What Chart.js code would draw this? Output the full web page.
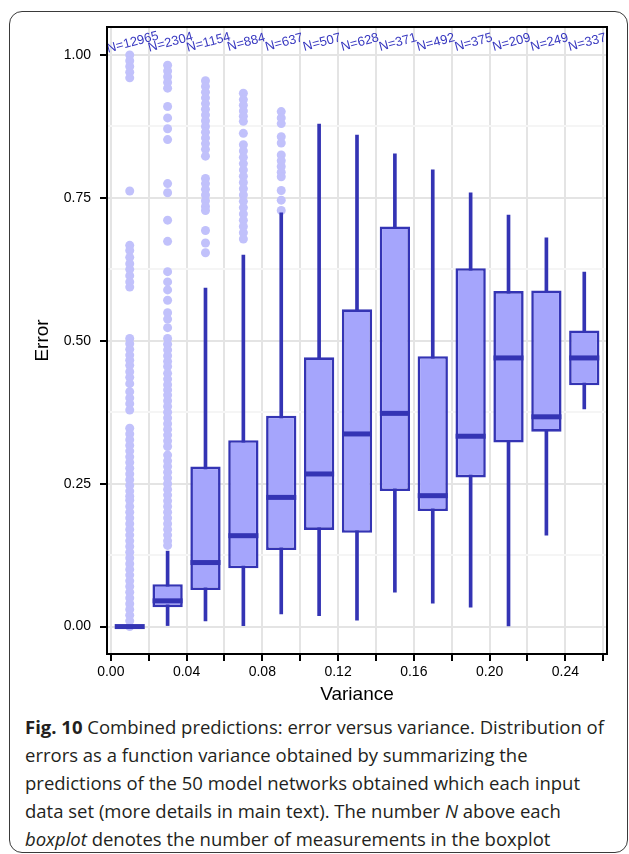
<!DOCTYPE html>
<html>
<head>
<meta charset="utf-8">
<script src="https://cdn.jsdelivr.net/npm/chart.js@4.4.1/dist/chart.umd.min.js"></script>
<style>
  body { margin: 0; background: #fff; width: 629px; height: 854px; overflow: hidden; position: relative; }
  #frame { position: absolute; left: 9px; top: 11px; width: 619px; height: 842px; box-sizing: border-box;
           border: 1.5px solid #3a3a3a; border-radius: 13px; }
  #wrap { position: absolute; left: 0; top: 0; width: 629px; height: 710px; }
  #caption { position: absolute; left: 25px; top: 713px; font-family: "Open Sans", sans-serif; font-size: 18.5px;
             line-height: 28px; color: #231f20; white-space: nowrap; }
</style>
</head>
<body>
<div id="frame"></div>
<div id="wrap"><canvas id="myChart" width="629" height="710"></canvas></div>
<div id="caption">
  <div><b>Fig. 10</b> Combined predictions: error versus variance. Distribution of</div>
  <div>errors as a function variance obtained by summarizing the</div>
  <div>predictions of the 50 model networks obtained which each input</div>
  <div>data set (more details in main text). The number <i>N</i> above each</div>
  <div><i>boxplot</i> denotes the number of measurements in the boxplot</div>
</div>
<script>
    // boxplot data, one entry per variance bin
    const varCenters = [0.01, 0.03, 0.05, 0.07, 0.09, 0.11, 0.13, 0.15, 0.17, 0.19, 0.21, 0.23, 0.25];
    const nCounts = [12965, 2304, 1154, 884, 637, 507, 628, 371, 492, 375, 209, 249, 337];
    const whiskLow = [0.0, 0.0, 0.010, 0.0, 0.022, 0.019, 0.011, 0.060, 0.041, 0.034, 0.001, 0.160, 0.381];
    const q1 = [0.0, 0.034, 0.064, 0.102, 0.134, 0.169, 0.164, 0.237, 0.202, 0.261, 0.322, 0.341, 0.422];
    const medians = [0.0, 0.045, 0.112, 0.159, 0.226, 0.267, 0.337, 0.373, 0.229, 0.333, 0.470, 0.367, 0.470];
    const q3 = [0.0, 0.074, 0.280, 0.326, 0.369, 0.471, 0.555, 0.700, 0.473, 0.627, 0.587, 0.588, 0.518];
    const whiskHigh = [0.0, 0.132, 0.592, 0.650, 0.724, 0.879, 0.860, 0.827, 0.799, 0.759, 0.720, 0.680, 0.620];

    const outliers = [
        [1.0, 0.99, 0.98, 0.97, 0.96, 0.762, 0.667, 0.658, 0.646, 0.635, 0.625, 0.614, 0.603, 0.594,
         0.504, 0.495, 0.485, 0.475, 0.466, 0.457, 0.446, 0.436, 0.425, 0.411, 0.40, 0.39, 0.379,
         0.347, 0.337, 0.327, 0.317, 0.307, 0.297, 0.287, 0.277, 0.267, 0.257, 0.247, 0.237, 0.228, 0.221,
         0.21, 0.20, 0.19, 0.18, 0.17, 0.16, 0.15, 0.14, 0.13, 0.12, 0.11, 0.10, 0.09, 0.08, 0.07,
         0.06, 0.05, 0.04, 0.03, 0.02, 0.01, 0.0],
        [0.982, 0.972, 0.962, 0.952, 0.942, 0.910, 0.890, 0.871, 0.852, 0.775, 0.759, 0.711, 0.674,
         0.621, 0.603, 0.589, 0.571, 0.549, 0.538, 0.523, 0.504, 0.494, 0.484, 0.474, 0.464, 0.455,
         0.443, 0.433, 0.423, 0.414, 0.405, 0.395, 0.385, 0.375, 0.365, 0.355, 0.345, 0.335, 0.325,
         0.315, 0.300, 0.290, 0.280, 0.270, 0.260, 0.250, 0.240, 0.230, 0.220, 0.210, 0.200, 0.190,
         0.180, 0.170, 0.160, 0.150, 0.142],
        [0.955, 0.945, 0.935, 0.925, 0.915, 0.905, 0.895, 0.885, 0.875, 0.865, 0.855, 0.845, 0.835,
         0.823, 0.784, 0.775, 0.765, 0.755, 0.745, 0.735, 0.728, 0.693, 0.671, 0.654],
        [0.933, 0.922, 0.912, 0.902, 0.893, 0.884, 0.863, 0.843, 0.832, 0.821, 0.810, 0.799, 0.788,
         0.777, 0.766, 0.755, 0.744, 0.733, 0.722, 0.711, 0.700, 0.689, 0.678],
        [0.901, 0.890, 0.880, 0.857, 0.846, 0.825, 0.815, 0.805, 0.795, 0.787, 0.763, 0.746, 0.728],
        [], [], [], [], [], [], [], []
    ];

    const xTickVals = [0, 0.02, 0.04, 0.06, 0.08, 0.10, 0.12, 0.14, 0.16, 0.18, 0.20, 0.22, 0.24, 0.26];
    const xTickLabels = ['0.00', '', '0.04', '', '0.08', '', '0.12', '', '0.16', '', '0.20', '', '0.24', ''];
    const yTickVals = [0, 0.125, 0.25, 0.375, 0.5, 0.625, 0.75, 0.875, 1.0];
    const yTickLabels = ['0.00', '', '0.25', '', '0.50', '', '0.75', '', '1.00'];

    const dark = '#3434b4';
    const boxFill = '#a5a5fc';
    const outlierColor = '#c1c1fb';
    const axisFont = {family: '"Liberation Sans", Arial, Helvetica, sans-serif', size: 14};
    const titleFont = {family: '"Liberation Sans", Arial, Helvetica, sans-serif', size: 19};

    const outlierPoints = [];
    outliers.forEach((list, i) => {
        list.forEach(v => outlierPoints.push({x: varCenters[i], y: v}));
    });

    const nLabels = {
        id: 'nLabels',
        afterDatasetsDraw(chart) {
            const {ctx, scales: {x, y}} = chart;
            ctx.save();
            ctx.font = '13px "Liberation Sans", Arial, sans-serif';
            ctx.fillStyle = '#3838c0';
            ctx.textAlign = 'center';
            ctx.textBaseline = 'middle';
            varCenters.forEach((v, i) => {
                ctx.save();
                ctx.translate(x.getPixelForValue(v) + 3, y.getPixelForValue(1.022));
                ctx.rotate(-15 * Math.PI / 180);
                ctx.fillText('N=' + nCounts[i], 0, 0);
                ctx.restore();
            });
            ctx.restore();
        }
    };

    const panelBorder = {
        id: 'panelBorder',
        afterDraw(chart) {
            const {ctx, chartArea: a} = chart;
            ctx.save();
            ctx.strokeStyle = '#000';
            ctx.lineWidth = 2;
            ctx.strokeRect(a.left, a.top, a.right - a.left, a.bottom - a.top);
            ctx.restore();
        }
    };

    const ctx = document.getElementById('myChart');

    new Chart(ctx, {
        type: 'bar',
        data: {
            datasets: [{
                type: 'scatter',
                data: varCenters.map((v, i) => ({x: v, y: medians[i]})),
                pointStyle: 'line',
                pointRadius: 15,
                borderWidth: 5,
                borderColor: dark,
                order: 0
            }, {
                data: varCenters.map((v, i) => ({x: v, y: [q1[i], q3[i]]})),
                backgroundColor: boxFill,
                borderColor: dark,
                borderWidth: 2.6,
                borderSkipped: false,
                grouped: false,
                categoryPercentage: 0.8,
                barPercentage: 1,
                order: 1
            }, {
                data: varCenters.map((v, i) => ({x: v, y: [whiskLow[i], whiskHigh[i]]})),
                backgroundColor: dark,
                borderWidth: 0,
                barThickness: 3,
                grouped: false,
                order: 2
            }, {
                type: 'scatter',
                data: outlierPoints,
                pointRadius: 4.5,
                borderWidth: 0,
                backgroundColor: outlierColor,
                order: 3
            }]
        },
        plugins: [nLabels, panelBorder],
        options: {
            responsive: false,
            animation: false,
            events: [],
            layout: {padding: {left: 31, right: 22, top: 27, bottom: 4}},
            plugins: {legend: {display: false}, tooltip: {enabled: false}},
            scales: {
                x: {
                    type: 'linear',
                    min: -0.002,
                    max: 0.262,
                    offset: false,
                    afterFit: s => { s.height = 52; },
                    afterBuildTicks: s => { s.ticks = xTickVals.map(v => ({value: v})); },
                    grid: {
                        offset: false,
                        color: '#e4e4e4',
                        lineWidth: 2,
                        tickColor: '#000',
                        tickLength: 7,
                        tickWidth: 2
                    },
                    border: {display: false},
                    ticks: {
                        autoSkip: false,
                        maxRotation: 0,
                        padding: 3,
                        color: '#000',
                        font: axisFont,
                        callback: (v, i) => xTickLabels[i]
                    },
                    title: {display: true, text: 'Variance', color: '#000', font: titleFont, padding: 0}
                },
                y: {
                    min: -0.048,
                    max: 1.049,
                    afterFit: s => { s.width = 76; },
                    afterBuildTicks: s => { s.ticks = yTickVals.map(v => ({value: v})); },
                    grid: {
                        color: c => yTickLabels[c.index] === '' ? '#f5f5f5' : '#e4e4e4',
                        lineWidth: 2,
                        tickColor: c => yTickLabels[c.index] === '' ? 'rgba(0,0,0,0)' : '#000',
                        tickLength: 7,
                        tickWidth: 2
                    },
                    border: {display: false},
                    ticks: {
                        padding: 9,
                        color: '#000',
                        font: axisFont,
                        callback: (v, i) => yTickLabels[i]
                    },
                    title: {display: true, text: 'Error', color: '#000', font: titleFont, padding: 0}
                }
            }
        }
    });
</script>
</body>
</html>
